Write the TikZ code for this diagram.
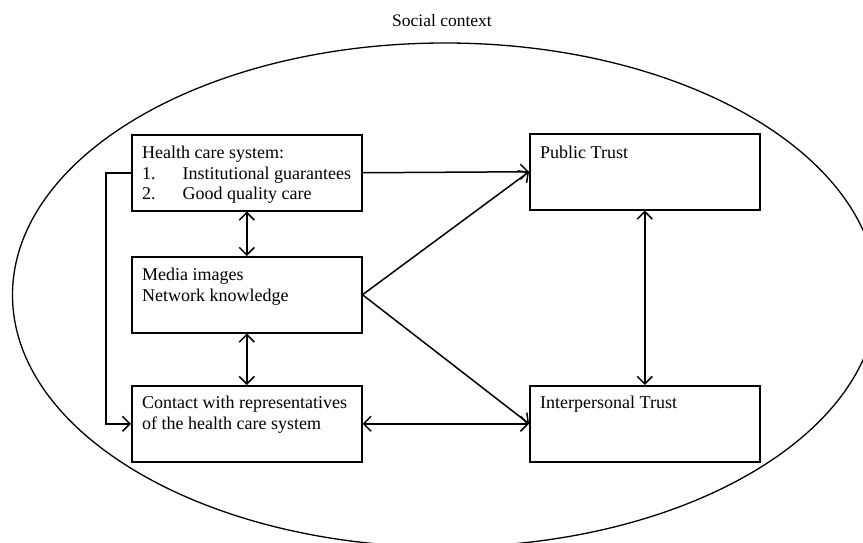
\documentclass[tikz,border=0pt]{standalone}
\usepackage{fontspec}
\setmainfont{Liberation Serif}
\usetikzlibrary{arrows.meta}

\tikzset{
  stagebox/.style={draw, line width=1.5pt, minimum width=230pt, minimum height=76pt,
    inner sep=0pt, anchor=north west},
  boxtext/.style={anchor=base west, inner sep=0pt, align=left,
    font=\fontsize{18}{20.5}\selectfont},
  barb/.tip={Straight Barb[length=7.5pt,width=15pt,line width=1.5pt]},
  link/.style={line width=1.5pt, -barb},
  duallink/.style={line width=1.5pt, barb-barb},
}

\begin{document}
\begin{tikzpicture}[x=1pt, y=-1pt]
  \useasboundingbox (0,0) rectangle (863,543);
  \clip (0,0) rectangle (863,543);

  % surrounding context
  \draw[line width=1.3pt] (445,295) ellipse [x radius=432.5, y radius=252];
  \node[anchor=base, inner sep=0pt, font=\fontsize{17.5}{20}\selectfont] (ctx) at (442,27) {Social context};

  % boxes
  \node[stagebox] (hcs) at (131,134) {};
  \node[stagebox] (media) at (131,256) {};
  \node[stagebox] (contact) at (131,385) {};
  \node[stagebox] (public) at (529,133) {};
  \node[stagebox] (inter) at (529,385) {};

  % box texts (anchored at the baseline of their last line)
  \node[boxtext] (hcst) at (142,199.5) {Health care system:\\
    1.\hspace{27pt}Institutional guarantees\\
    2.\hspace{27pt}Good quality care};
  \node[boxtext] (mediat) at (142,301) {Media images\\Network knowledge};
  \node[boxtext] (contactt) at (142,429) {Contact with representatives\\of the health care system};
  \node[boxtext] (publict) at (540,158) {Public Trust};
  \node[boxtext] (intert) at (540,408) {Interpersonal Trust};

  % connectors
  \draw[link] (hcs.east) -- (public.west);
  \draw[link] (media.east) -- (public.west);
  \draw[link] (media.east) -- (inter.west);
  \draw[duallink] (contact.east) -- (inter.west);
  \draw[duallink] (hcs.south) -- (media.north);
  \draw[duallink] (media.south) -- (contact.north);
  \draw[duallink] (public.south) -- (inter.north);
  \draw[link] (hcs.west) -- ++(-25,0) |- (contact.west);
\end{tikzpicture}
\end{document}
